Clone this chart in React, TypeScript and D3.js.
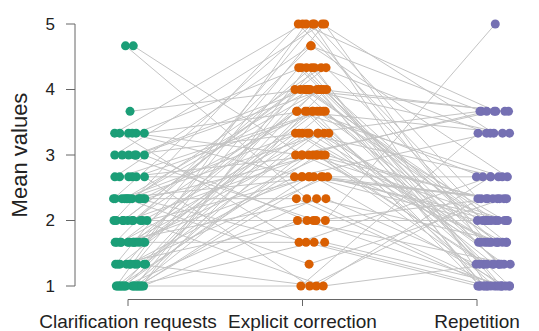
import React from "react";
import * as d3 from "d3";

// Conditions (x categories)
const conditions = ["Clarification requests", "Explicit correction", "Repetition"];
const colors = ["#1B9E77", "#D95F02", "#7570B3"];
const yTicks = [1, 2, 3, 4, 5];

// Participant means, expressed in thirds (value * 3)
const clarification = [14, 14, 11, 10, 10, 10, 10, 9, 9, 9, 9, 8, 8, 8, 8, 7, 7, 7, 7, 7, 7, 7, 7, 6, 6, 6, 6, 6, 6, 6, 5, 5, 5, 5, 5, 5, 5, 5, 4, 4, 4, 4, 4, 4, 4, 3, 3, 3, 3, 3, 3, 3, 3, 3, 3, 3, 3,
  3, 3, 3, 3, 3, 4, 4, 4, 5, 5, 5, 5, 6, 6, 6, 7, 7, 7, 7, 8, 8, 9, 9, 10, 10];
const explicitCorrection = [7, 9, 12, 15, 13, 8, 11, 15, 12, 10, 6, 14, 11, 9, 3, 15, 13, 12, 11, 10, 8, 5, 4, 15, 13, 12, 10, 9, 6, 3, 14, 12, 11, 10, 8, 7, 5, 9, 15, 13, 11, 10, 8, 6, 3, 15, 13, 12, 11, 10, 9, 8, 7, 6, 5, 3, 8,
  12, 11, 10, 9, 13, 15, 12, 8, 11, 9, 10, 12, 13, 8, 11, 9, 12, 10, 7, 8, 11, 12, 6, 9, 5];
const repetition = [3, 5, 6, 11, 4, 7, 3, 10, 5, 8, 3, 11, 6, 4, 7, 3, 10, 5, 8, 4, 6, 3, 7, 6, 3, 11, 5, 7, 15, 4, 8, 3, 10, 5, 6, 4, 3, 11, 7, 4, 5, 3, 10, 6, 8, 5, 3, 6, 4, 11, 3, 7, 5, 4, 3, 10, 8,
  5, 3, 4, 6, 3, 5, 4, 6, 3, 7, 5, 4, 6, 3, 8, 4, 11, 5, 3, 7, 6, 10, 7, 11, 8];

const series = [clarification, explicitCorrection, repetition];

export default function App() {
  const W = 539;
  const H = 331;
  const y = d3.scaleLinear().domain([1, 5]).range([286, 24]);
  const xAxis = d3.scaleLinear().domain([0, 2]).range([128, 477]);
  const xDot = d3.scaleLinear().domain([0, 2]).range([130, 493]);
  const spread = 34;

  const n = clarification.length;

  // within each (condition, level) group spread the dots across the column width
  const offsets: number[][] = series.map((s, c) => {
    const groups = d3.group(d3.range(n), (i) => s[i]);
    const off = new Array(n).fill(0);
    groups.forEach((members) => {
      const m = members.length;
      const w = m === 2 ? 8 : spread;
      const order = members
        .map((i, k) => ({ i, key: (k * 0.6180339887 + c * 0.29) % 1 }))
        .sort((a, b) => a.key - b.key);
      order.forEach((o, k) => {
        const base = m === 1 ? 0 : ((k + 0.5) / m - 0.5) * w;
        const wob = (((o.i * 0.7548776662 + c * 0.41) % 1) - 0.5) * 5;
        off[o.i] = base + wob;
      });
    });
    return off;
  });

  const pts = d3.range(n).map((i) =>
    series.map((s, c) => ({ x: xDot(c) + offsets[c][i], y: y(s[i] / 3), c }))
  );

  const line = d3
    .line<{ x: number; y: number }>()
    .x((d) => d.x)
    .y((d) => d.y);

  const font = "Liberation Sans, Arial, Helvetica, sans-serif";

  return (
    <svg
      width={W}
      height={H}
      style={{ position: "absolute", left: 0, top: 0, background: "#fff" }}
    >
      <g>
        {pts.map((p, i) => (
          <path key={i} d={line(p) || ""} fill="none" stroke="#c4c4c4" strokeWidth={1} />
        ))}
      </g>
      <g>
        {pts.flat().map((p, k) => (
          <circle key={k} cx={p.x} cy={p.y} r={4.5} fill={colors[p.c]} />
        ))}
      </g>
      {/* y axis */}
      <g fontFamily={font} fontSize={17} fill="#222">
        <line x1={75} x2={75} y1={y(1)} y2={y(5)} stroke="#666" strokeWidth={1} />
        {yTicks.map((t) => (
          <g key={t}>
            <line x1={66} x2={75} y1={y(t)} y2={y(t)} stroke="#666" strokeWidth={1} />
            <text x={55} y={y(t)} textAnchor="end" dominantBaseline="central">
              {t}
            </text>
          </g>
        ))}
        <text
          transform={`translate(27,${(y(1) + y(5)) / 2}) rotate(-90)`}
          textAnchor="middle"
          fontSize={22}
        >
          Mean values
        </text>
      </g>
      {/* x axis */}
      <g fontFamily={font} fontSize={19} fill="#222">
        <line x1={xAxis(0)} x2={xAxis(2)} y1={299.5} y2={299.5} stroke="#666" strokeWidth={1} />
        {conditions.map((c, i) => (
          <g key={c}>
            <line x1={xAxis(i)} x2={xAxis(i)} y1={299.5} y2={306} stroke="#666" strokeWidth={1} />
            <text x={xAxis(i)} y={328} textAnchor="middle">
              {c}
            </text>
          </g>
        ))}
      </g>
    </svg>
  );
}
